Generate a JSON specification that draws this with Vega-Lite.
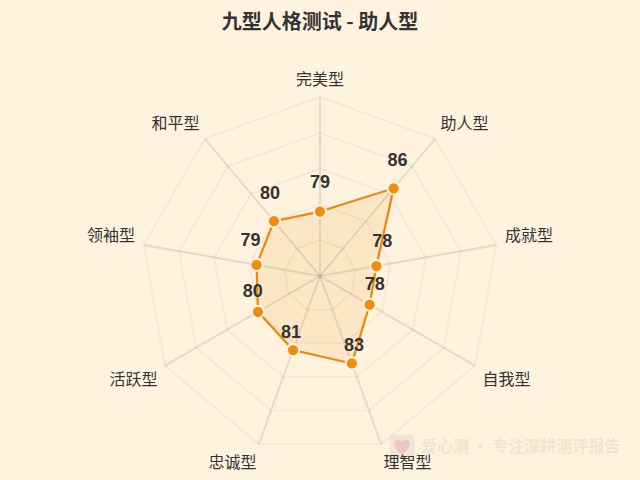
{"$schema":"https://vega.github.io/schema/vega-lite/v6.json","width":640,"height":480,"padding":0,"autosize":"none","background":"#FFF3E0","title":{"text":"九型人格测试 - 助人型","anchor":"middle","frame":"group","font":"Noto Sans CJK SC","fontSize":20,"fontWeight":"bold","color":"#333333","dy":37},"config":{"view":{"stroke":null},"font":"Noto Sans CJK SC"},"datasets":{"scores":[{"type":"完美型","score":79,"i":0},{"type":"助人型","score":86,"i":1},{"type":"成就型","score":78,"i":2},{"type":"自我型","score":78,"i":3},{"type":"理智型","score":83,"i":4},{"type":"忠诚型","score":81,"i":5},{"type":"活跃型","score":80,"i":6},{"type":"领袖型","score":79,"i":7},{"type":"和平型","score":80,"i":8}],"rings":[{"level":75,"i":0},{"level":75,"i":1},{"level":75,"i":2},{"level":75,"i":3},{"level":75,"i":4},{"level":75,"i":5},{"level":75,"i":6},{"level":75,"i":7},{"level":75,"i":8},{"level":75,"i":9},{"level":80,"i":0},{"level":80,"i":1},{"level":80,"i":2},{"level":80,"i":3},{"level":80,"i":4},{"level":80,"i":5},{"level":80,"i":6},{"level":80,"i":7},{"level":80,"i":8},{"level":80,"i":9},{"level":85,"i":0},{"level":85,"i":1},{"level":85,"i":2},{"level":85,"i":3},{"level":85,"i":4},{"level":85,"i":5},{"level":85,"i":6},{"level":85,"i":7},{"level":85,"i":8},{"level":85,"i":9},{"level":90,"i":0},{"level":90,"i":1},{"level":90,"i":2},{"level":90,"i":3},{"level":90,"i":4},{"level":90,"i":5},{"level":90,"i":6},{"level":90,"i":7},{"level":90,"i":8},{"level":90,"i":9},{"level":95,"i":0},{"level":95,"i":1},{"level":95,"i":2},{"level":95,"i":3},{"level":95,"i":4},{"level":95,"i":5},{"level":95,"i":6},{"level":95,"i":7},{"level":95,"i":8},{"level":95,"i":9}]},"layer":[{"data":{"name":"rings"},"transform":[{"calculate":"(datum.level-70)*sin(datum.i*PI*2/9)","as":"px"},{"calculate":"(datum.level-70)*cos(datum.i*PI*2/9)","as":"py"}],"mark":{"type":"line","stroke":"#8D7E73","strokeOpacity":0.09,"strokeWidth":2},"encoding":{"x":{"field":"px","type":"quantitative","scale":{"domain":[-44.69,44.69],"nice":false,"zero":false},"axis":null},"y":{"field":"py","type":"quantitative","scale":{"domain":[-28.49,38.55],"nice":false,"zero":false},"axis":null},"detail":{"field":"level"},"order":{"field":"i"}}},{"data":{"name":"scores"},"transform":[{"calculate":"25*sin(datum.i*PI*2/9)","as":"px"},{"calculate":"25*cos(datum.i*PI*2/9)","as":"py"}],"mark":{"type":"rule","stroke":"#8D7E73","strokeOpacity":0.22,"strokeWidth":2},"encoding":{"x":{"field":"px","type":"quantitative"},"y":{"field":"py","type":"quantitative"},"x2":{"datum":0},"y2":{"datum":0}}},{"data":{"name":"scores"},"transform":[{"calculate":"(datum.score-70)*sin(datum.i*PI*2/9)","as":"px"},{"calculate":"(datum.score-70)*cos(datum.i*PI*2/9)","as":"py"}],"mark":{"type":"line","interpolate":"linear-closed","stroke":"#E8890C","strokeWidth":2.2,"fill":"#F28C0F","fillOpacity":0.12},"encoding":{"x":{"field":"px","type":"quantitative"},"y":{"field":"py","type":"quantitative"},"order":{"field":"i"}}},{"data":{"name":"scores"},"transform":[{"calculate":"(datum.score-70)*sin(datum.i*PI*2/9)","as":"px"},{"calculate":"(datum.score-70)*cos(datum.i*PI*2/9)","as":"py"}],"mark":{"type":"point","filled":true,"fill":"#F28C0F","stroke":"#FFF3E0","strokeWidth":2,"size":150,"opacity":1},"encoding":{"x":{"field":"px","type":"quantitative"},"y":{"field":"py","type":"quantitative"}}},{"data":{"values":[{"mark":"爱心测 · 专注深耕测评报告"}]},"mark":{"type":"text","font":"Noto Sans CJK SC","fontSize":16,"fontWeight":"bold","fill":"#8D7E63","opacity":0.12,"align":"left"},"encoding":{"x":{"datum":14.1},"y":{"datum":-23.88},"text":{"field":"mark","type":"nominal"}}},{"data":{"values":[{"mark":"icon"}]},"mark":{"type":"point","filled":true,"shape":"M-0.75,-1 H0.75 Q1,-1 1,-0.75 V0.75 Q1,1 0.75,1 H-0.75 Q-1,1 -1,0.75 V-0.75 Q-1,-1 -0.75,-1 Z","fill":"#8FA08A","opacity":0.14,"size":625},"encoding":{"x":{"datum":11.45},"y":{"datum":-23.88}}},{"data":{"values":[{"mark":"icon"}]},"mark":{"type":"point","filled":true,"shape":"M0,0.85 C-1.25,0 -0.95,-0.85 -0.42,-0.85 C-0.15,-0.85 0,-0.65 0,-0.5 C0,-0.65 0.15,-0.85 0.42,-0.85 C0.95,-0.85 1.25,0 0,0.85 Z","fill":"#F48FB1","opacity":0.4,"size":300},"encoding":{"x":{"datum":11.45},"y":{"datum":-23.88}}},{"data":{"name":"scores"},"transform":[{"calculate":"(datum.score-70)*sin(datum.i*PI*2/9)+0.84*sin(datum.i*PI*2/9)","as":"px"},{"calculate":"(datum.score-70)*cos(datum.i*PI*2/9)+0.84*cos(datum.i*PI*2/9)+3.2","as":"py"}],"mark":{"type":"text","font":"Liberation Sans","fontSize":18,"fontWeight":"bold","fill":"#333333"},"encoding":{"x":{"field":"px","type":"quantitative"},"y":{"field":"py","type":"quantitative"},"text":{"field":"score","type":"quantitative"}}},{"data":{"name":"scores"},"transform":[{"calculate":"26.4*sin(datum.i*PI*2/9)+(datum.i==0?0:datum.i<5?3.2:-3.2)","as":"px"},{"calculate":"26.4*cos(datum.i*PI*2/9)+(datum.i>=3&&datum.i<=6?-1.15:1.15)-0.2","as":"py"}],"mark":{"type":"text","font":"Noto Sans CJK SC","fontSize":16,"fill":"#333333"},"encoding":{"x":{"field":"px","type":"quantitative"},"y":{"field":"py","type":"quantitative"},"text":{"field":"type","type":"nominal"}}}]}
